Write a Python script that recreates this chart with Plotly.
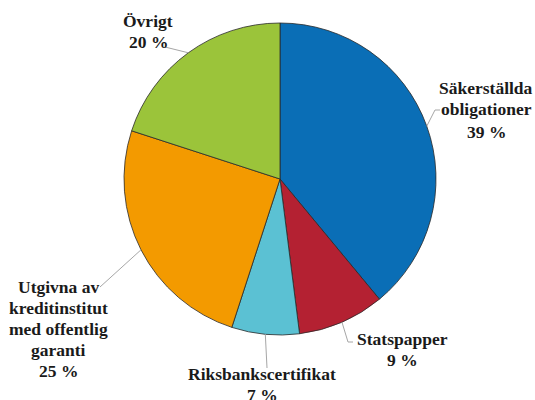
import math
import plotly.graph_objects as go

# ---- data ----
labels = ["Säkerställda obligationer", "Statspapper", "Riksbankscertifikat",
          "Utgivna av kreditinstitut med offentlig garanti", "Övrigt"]
label_lines = [["Säkerställda", "obligationer"], ["Statspapper"], ["Riksbankscertifikat"],
               ["Utgivna av", "kreditinstitut", "med offentlig", "garanti"], ["Övrigt"]]
values = [39, 9, 7, 25, 20]
colors = ["#0A6EB6", "#B42132", "#5BC1D3", "#F39A00", "#9BC43A"]

W, H = 535, 400
CX, CY, R = 280, 179, 156

# label layout: x centre, y of first line centre, line step (px)
label_pos = [(486, 87.5, 22), (402, 339, 21), (262, 374, 21), (58.5, 287, 21), (148, 21.5, 21)]
elbows = [[(435, 110), (440, 110)],
          [(348, 342), (353, 342)],
          [(267, 368)],
          [(100, 287)],
          [(165, 47)]]

def px(x, y):
    return x / W, 1 - y / H

fig = go.Figure(go.Pie(
    labels=labels, values=values, sort=False, direction="clockwise", rotation=0,
    marker=dict(colors=colors, line=dict(color="#2a2a2a", width=0.8)),
    textinfo="none", hoverinfo="label+percent", showlegend=False,
    domain=dict(x=[(CX - R) / W, (CX + R) / W], y=[1 - (CY + R) / H, 1 - (CY - R) / H]),
))

total = sum(values)
cum = 0
shapes, annos = [], []
for i, v in enumerate(values):
    mid = (cum + v / 2) / total * 2 * math.pi
    cum += v
    sx, sy = CX + R * math.sin(mid), CY - R * math.cos(mid)
    pts = [(sx, sy)] + elbows[i]
    for (x0, y0), (x1, y1) in zip(pts[:-1], pts[1:]):
        a0, b0 = px(x0, y0)
        a1, b1 = px(x1, y1)
        shapes.append(dict(type="line", xref="paper", yref="paper", x0=a0, y0=b0, x1=a1, y1=b1,
                           line=dict(color="#A6A6A6", width=1)))
    lines = label_lines[i] + [f"{round(v / total * 100)} %"]
    x0, y0, step = label_pos[i]
    for k, t in enumerate(lines):
        lx, ly = px(x0, y0 + k * step)
        annos.append(dict(x=lx, y=ly, xref="paper", yref="paper", xanchor="center", yanchor="middle",
                          align="center", showarrow=False, text=f"<b>{t}</b>",
                          font=dict(family="Liberation Serif", size=17.5, color="#1a1a1a")))

fig.update_layout(width=W, height=H, margin=dict(l=0, r=0, t=0, b=0),
                  paper_bgcolor="white", plot_bgcolor="white",
                  shapes=shapes, annotations=annos)
fig.write_html("out.html", config={"displayModeBar": False},
               post_script="document.body.style.margin='0px';")
